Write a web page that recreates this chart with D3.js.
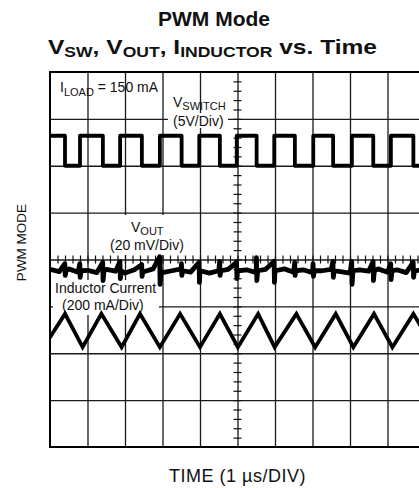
<!DOCTYPE html>
<html>
<head>
<meta charset="utf-8">
<script src="https://cdn.jsdelivr.net/npm/d3@7"></script>
<style>
  body { margin: 0; background: #fff; }
  svg { display: block; font-family: "Liberation Sans", Arial, Helvetica, sans-serif; }
</style>
</head>
<body>
<div id="chart"></div>
<script>
// scope settings: 10 time divisions (1 us/div), 8 vertical divisions
const timeDomain = [0, 10];
const divDomain = [-4, 4];

// V_SWITCH edges (us) and levels (divisions)
const swRise = [-0.24, 0.80, 1.87, 2.93, 3.98, 4.98, 5.98, 7.02, 8.05, 9.09, 10.13];
const swFall = [0.40, 1.41, 2.45, 3.51, 4.53, 5.51, 6.53, 7.55, 8.62, 9.69];
const swHigh = 2.64;
const swLow = 2.0;

// inductor current triangle: peak / valley times (us) and levels (div)
const iPeakT = [0.40, 1.37, 2.40, 3.47, 4.53, 5.55, 6.57, 7.62, 8.64, 9.69];
const iValleyT = [-0.17, 0.87, 1.91, 2.93, 4.00, 5.01, 5.99, 7.07, 8.09, 9.13, 10.22];
const iPeak = -1.16;
const iValley = -1.87;

// V_OUT ripple: baseline every 0.25 us (div) + switching spikes [t, top, bottom]
const voutT = d3.range(0, 10.01, 0.25);
const voutBase = [-0.21, -0.26, -0.20, -0.27, -0.23, -0.28, -0.21, -0.25, -0.29, -0.22,
  -0.26, -0.20, -0.28, -0.24, -0.20, -0.27, -0.22, -0.29, -0.24, -0.21,
  -0.27, -0.22, -0.28, -0.21, -0.25, -0.20, -0.27, -0.22, -0.28, -0.24,
  -0.21, -0.26, -0.29, -0.22, -0.25, -0.20, -0.27, -0.22, -0.28, -0.24, -0.21];
const voutSpikes = [
  [0.40, -0.09, -0.34], [0.80, -0.09, -0.38], [1.41, -0.06, -0.45], [1.87, -0.04, -0.41],
  [2.45, -0.11, -0.36], [2.93, 0.06, -0.53], [3.51, -0.09, -0.34], [3.98, -0.06, -0.49],
  [4.53, -0.04, -0.34], [4.98, -0.06, -0.41], [5.51, 0.04, -0.45], [5.98, -0.04, -0.49],
  [6.53, -0.06, -0.34], [7.02, -0.09, -0.36], [7.55, -0.04, -0.38], [8.05, -0.04, -0.53],
  [8.62, -0.04, -0.45], [9.09, -0.09, -0.43], [9.69, -0.06, -0.38]
];

const width = 419, height = 488;
const plotLeft = 50, plotTop = 72, plotW = 375, plotH = 375;

const x = d3.scaleLinear().domain(timeDomain).range([plotLeft, plotLeft + plotW]);
const y = d3.scaleLinear().domain(divDomain).range([plotTop + plotH, plotTop]);

const svg = d3.select("#chart").append("svg")
    .attr("width", width)
    .attr("height", height);

svg.append("clipPath").attr("id", "plot-clip")
  .append("rect")
    .attr("x", plotLeft).attr("y", plotTop)
    .attr("width", plotW).attr("height", plotH);

// grid
svg.append("g")
    .attr("transform", "translate(0," + (plotTop + plotH) + ")")
    .call(d3.axisBottom(x).tickValues(d3.range(1, 10)).tickSize(-plotH).tickFormat(""))
    .call(g => g.select(".domain").remove())
    .call(g => g.selectAll("line").attr("stroke", "#1a1a1a").attr("stroke-width", 1.3));

svg.append("g")
    .attr("transform", "translate(" + plotLeft + ",0)")
    .call(d3.axisLeft(y).tickValues(d3.range(-3, 4)).tickSize(-plotW).tickFormat(""))
    .call(g => g.select(".domain").remove())
    .call(g => g.selectAll("line").attr("stroke", "#1a1a1a").attr("stroke-width", 1.3));

// minor ticks on the centre axes
svg.append("g")
    .attr("transform", "translate(0," + (y(0) - 4) + ")")
    .call(d3.axisBottom(x).tickValues(d3.range(0.2, 10, 0.2)).tickSize(8).tickFormat(""))
    .call(g => g.select(".domain").remove())
    .call(g => g.selectAll("line").attr("stroke", "#111").attr("stroke-width", 1.2));

svg.append("g")
    .attr("transform", "translate(" + (x(5) - 4) + ",0)")
    .call(d3.axisRight(y).tickValues(d3.range(-3.8, 4, 0.2)).tickSize(8).tickFormat(""))
    .call(g => g.select(".domain").remove())
    .call(g => g.selectAll("line").attr("stroke", "#111").attr("stroke-width", 1.2));

// border (right edge falls outside the window)
svg.append("rect")
    .attr("x", plotLeft).attr("y", plotTop)
    .attr("width", plotW).attr("height", plotH)
    .attr("fill", "none")
    .attr("stroke", "#000")
    .attr("stroke-width", 2);

// text helper with subscripts
function richText(g, parts, size, subSize, shift, weight) {
  const t = g.append("text")
      .attr("font-size", size)
      .attr("font-weight", weight || "normal")
      .attr("fill", "#111");
  let shifted = false;
  parts.forEach(p => {
    const sub = p[1];
    const ts = t.append("tspan").text(p[0]);
    if (sub) { ts.attr("font-size", subSize).attr("dy", shifted ? 0 : shift); shifted = true; }
    else { if (shifted) ts.attr("dy", -shift); shifted = false; }
  });
  return t;
}

// white boxes behind in-plot labels
const boxes = [
  [168, 113, 60, 15],
  [106, 215, 84, 40],
  [53, 280, 106, 35]
];
svg.append("g").selectAll("rect")
  .data(boxes)
  .join("rect")
    .attr("x", d => d[0]).attr("y", d => d[1])
    .attr("width", d => d[2]).attr("height", d => d[3])
    .attr("fill", "#fff");

// labels inside the scope
const lab = 14, labSub = 11;
richText(svg, [["I"], ["LOAD", true], [" = 150 mA"]], lab, labSub, 4)
    .attr("x", 60).attr("y", 92);
richText(svg, [["V"], ["SWITCH", true]], lab, labSub, 3)
    .attr("x", 173).attr("y", 106.5);
svg.append("text").attr("x", 173).attr("y", 125.5).attr("font-size", lab).attr("fill", "#111").text("(5V/Div)");
richText(svg, [["V"], ["OUT", true]], lab, labSub, 3)
    .attr("x", 131).attr("y", 231.5);
svg.append("text").attr("x", 110).attr("y", 250).attr("font-size", lab).attr("fill", "#111").text("(20 mV/Div)");
svg.append("text").attr("x", 55).attr("y", 293.3).attr("font-size", lab).attr("fill", "#111").text("Inductor Current");
svg.append("text").attr("x", 62).attr("y", 310).attr("font-size", lab).attr("fill", "#111").text("(200 mA/Div)");

// traces
const traces = svg.append("g").attr("clip-path", "url(#plot-clip)");
const line = d3.line().x(d => x(d[0])).y(d => y(d[1]));

// switch node square wave
const swEdges = swRise.map(t => [t, "r"]).concat(swFall.map(t => [t, "f"]))
    .sort((a, b) => a[0] - b[0]);
const swPts = [];
swEdges.forEach(e => {
  if (e[1] === "r") { swPts.push([e[0], swLow], [e[0], swHigh]); }
  else { swPts.push([e[0], swHigh], [e[0], swLow]); }
});
traces.append("path")
    .attr("d", line(swPts))
    .attr("fill", "none")
    .attr("stroke", "#000")
    .attr("stroke-width", 3.8)
    .attr("stroke-linejoin", "round");

// inductor current triangle
const iPts = iPeakT.map(t => [t, iPeak]).concat(iValleyT.map(t => [t, iValley]))
    .sort((a, b) => a[0] - b[0]);
traces.append("path")
    .attr("d", line(iPts))
    .attr("fill", "none")
    .attr("stroke", "#000")
    .attr("stroke-width", 3.8)
    .attr("stroke-linejoin", "miter");

// output ripple
const voutPts = voutT.map((t, i) => [t, voutBase[i]]);
voutSpikes.forEach(s => {
  voutPts.push([s[0] - 0.005, s[1]], [s[0] + 0.005, s[2]], [s[0] + 0.03, -0.24]);
});
voutPts.sort((a, b) => a[0] - b[0]);
traces.append("path")
    .attr("d", line(voutPts))
    .attr("fill", "none")
    .attr("stroke", "#000")
    .attr("stroke-width", 4.8)
    .attr("stroke-linejoin", "round");

// titles
richText(svg, [["PWM Mode"]], 21, 15, 0, "bold")
    .attr("x", 214).attr("y", 26).attr("text-anchor", "middle");
richText(svg, [["V"], ["SW", true], [", V"], ["OUT", true], [", I"], ["INDUCTOR", true], [" vs. Time"]], 21, 15, 3.3, "bold")
    .attr("x", 212.5).attr("y", 54).attr("text-anchor", "middle")
    .attr("textLength", 329).attr("lengthAdjust", "spacingAndGlyphs");

// axis titles
svg.append("text")
    .attr("x", 237.5).attr("y", 482)
    .attr("text-anchor", "middle")
    .attr("font-size", 18)
    .attr("letter-spacing", 0.5)
    .attr("fill", "#111")
    .text("TIME (1 \u00b5s/DIV)");

svg.append("text")
    .attr("transform", "translate(26,242.5) rotate(-90)")
    .attr("text-anchor", "middle")
    .attr("font-size", 13.5)
    .attr("fill", "#111")
    .text("PWM MODE");
</script>
</body>
</html>
